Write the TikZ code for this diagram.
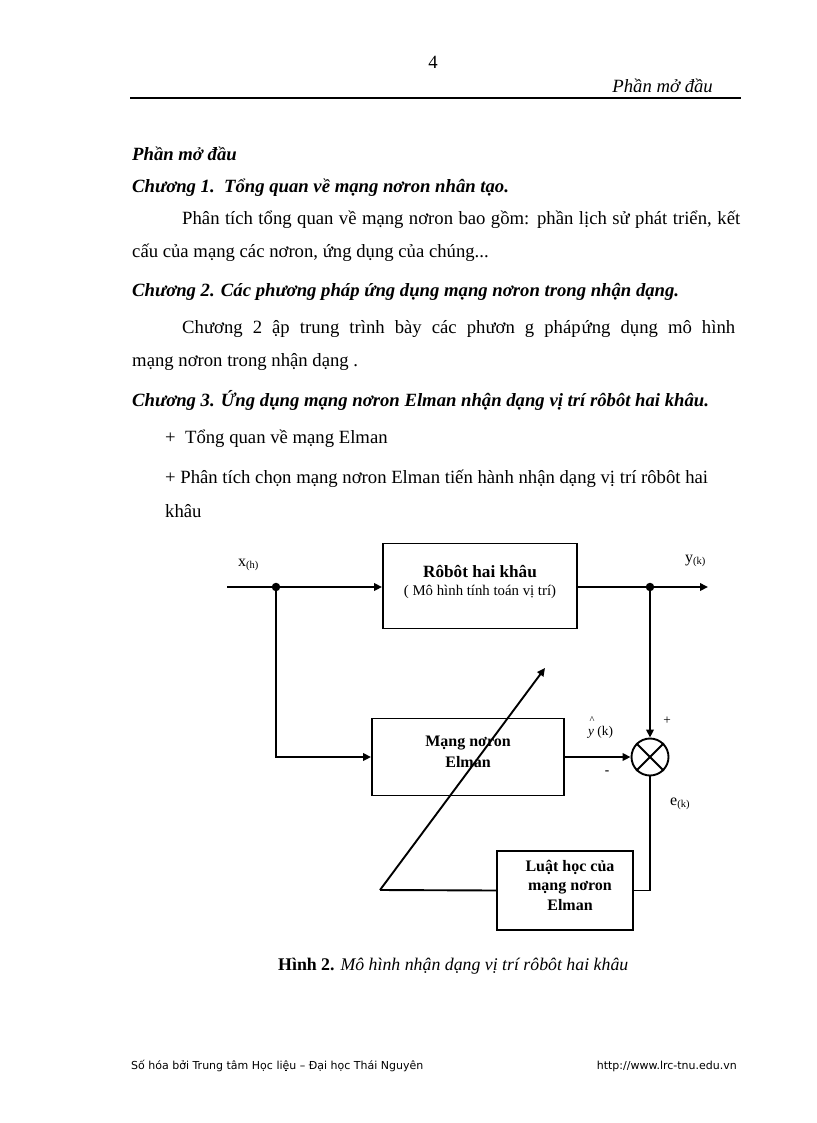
\documentclass[tikz,border=0pt]{standalone}
\usepackage{fontspec}
\setmainfont{Liberation Serif}
\newfontfamily\footfont{DejaVu Sans}
\usetikzlibrary{arrows.meta}
\newcommand\bodyfs{\fontsize{18.7}{22}\selectfont}
\newcommand\diagfs{\fontsize{16}{19}\selectfont}
\newcommand\smallfs{\fontsize{13.3}{16}\selectfont}
\newcommand\subfs{\fontsize{10.5}{12}\selectfont}
\tikzset{
  txt/.style={inner sep=0pt, anchor=base west, font=\bodyfs},
  ttl/.style={txt, font=\bodyfs\bfseries\itshape},
  blk/.style={draw, line width=1.9pt, rectangle, align=center, inner sep=0pt, font=\diagfs\bfseries},
  wire/.style={line width=1.9pt},
  arr/.style={wire, -{Triangle[length=8pt,width=7.5pt]}},
  dot/.style={circle, fill=black, inner sep=0pt, minimum size=8.5pt},
  lbl/.style={inner sep=0pt, font=\diagfs},
}
\begin{document}
\begin{tikzpicture}[x=1pt,y=-1pt]
\useasboundingbox (0,0) rectangle (816,1123);
\fill[white] (0,0) rectangle (816,1123);
% header
\node[txt, anchor=base] (pnum) at (433,69) {4};
\node[txt, anchor=base east, font=\bodyfs\itshape] (hdr) at (713,93) {Phần mở đầu};
\coordinate (rl) at (130,98);
\coordinate (rr) at (741,98);
\draw[line width=1.6pt] (rl) -- (rr);
% body
\node[ttl] (t0) at (132,161) {Phần mở đầu};
\node[ttl] (t1) at (132,193) {Chương 1.\ \ Tổng quan về mạng nơron nhân tạo.};
\node[txt] (p1a) at (182,225) {\makebox[558pt][s]{Phân tích tổng quan về mạng nơron bao gồm: phần lịch sử phát triển, kết}};
\node[txt] (p1b) at (132,257) {cấu của mạng các nơron, ứng dụng của chúng...};
\node[ttl] (t2) at (132,296) {Chương 2. Các phương pháp ứng dụng mạng nơron trong nhận dạng.};
\node[txt] (p2a) at (182,333) {\makebox[553pt][s]{Chương 2 ập trung trình bày các phươn g pháp\hspace{1pt}ứng dụng mô hình}};
\node[txt] (p2b) at (132,366) {mạng nơron trong nhận dạng .};
\node[ttl] (t3) at (132,406) {Chương 3. Ứng dụng mạng nơron Elman nhận dạng vị trí rôbôt hai khâu.};
\node[txt] (b1) at (165,443) {+\ \ Tổng quan về mạng Elman};
\node[txt] (b2) at (165,483) {+ Phân tích chọn mạng nơron Elman tiến hành nhận dạng vị trí rôbôt hai};
\node[txt] (b3) at (165,517) {khâu};
% diagram
\node[blk, minimum width=194pt, minimum height=85pt] (robot) at (480,586) {};
\node[inner sep=0pt, anchor=base, font=\fontsize{17.2}{20}\selectfont\bfseries] (rt1) at (480,577) {Rôbôt hai khâu};
\node[inner sep=0pt, anchor=base, font=\fontsize{14.8}{17}\selectfont] (rt2) at (480,595) {( Mô hình tính toán vị trí)};
\node[blk, minimum width=192pt, minimum height=77pt] (mang) at (468,757) {};
\node[inner sep=0pt, anchor=base, font=\diagfs\bfseries] (mt1) at (468,746) {Mạng nơron};
\node[inner sep=0pt, anchor=base, font=\diagfs\bfseries] (mt2) at (468,767) {Elman};
\node[blk, minimum width=136pt, minimum height=79pt] (luat) at (565,890.5) {};
\node[inner sep=0pt, anchor=base, font=\diagfs\bfseries] (lt1) at (570,871) {Luật học của};
\node[inner sep=0pt, anchor=base, font=\diagfs\bfseries] (lt2) at (570,890) {mạng nơron};
\node[inner sep=0pt, anchor=base, font=\diagfs\bfseries] (lt3) at (570,910) {Elman};
\node[draw, circle, line width=1.9pt, minimum size=37pt, inner sep=0pt] (sum) at (650,757) {};
\draw[wire] (sum.north east) -- (sum.south west);
\draw[wire] (sum.north west) -- (sum.south east);
\coordinate (xin) at (227,587);
\node[dot] (d1) at (276,587) {};
\node[dot] (d2) at (650,587) {};
\coordinate (yout) at (708,587);
\draw[wire] (xin) -- (d1);
\draw[arr] (d1) -- (robot.west |- d1);
\draw[wire] (robot.east |- d2) -- (d2);
\draw[arr] (d2) -- (yout);
\draw[arr] (d1) |- (mang.west);
\draw[arr] (mang.east) -- (sum.west);
\draw[arr] (d2) -- (sum.north);
\draw[wire] (sum.south) |- (luat.east);
\coordinate (dstart) at (380,890);
\coordinate (dend) at (545,668);
\draw[wire] (luat.west) -- (dstart);
\draw[arr] (dstart) -- (dend);
% labels
\node[lbl, anchor=base west] (xl) at (238,566) {x\raisebox{-2.5pt}{\subfs(h)}};
\node[lbl, anchor=base west] (yl) at (685,562) {y\raisebox{-2.5pt}{\subfs(k)}};
\node[lbl, anchor=base west, font=\smallfs] (yhat) at (588,735) {\makebox[0pt][l]{\hspace{1.5pt}\raisebox{12pt}{\subfs\^{}}}\textit{y} (k)};
\node[lbl, anchor=base, font=\smallfs] (plus) at (667,724) {+};
\node[lbl, anchor=base, font=\smallfs\bfseries] (minus) at (607,774) {-};
\node[lbl, anchor=base west] (el) at (670,805) {e\raisebox{-2.5pt}{\subfs(k)}};
% caption
\node[inner sep=0pt, anchor=base west, font=\fontsize{17.8}{20}\selectfont] (cap) at (278,970) {\textbf{Hình 2.} \textit{Mô hình nhận dạng vị trí rôbôt hai khâu}};
% footer
\node[inner sep=0pt, anchor=base west, font=\footfont\fontsize{11}{13}\selectfont] (f1) at (131,1069) {Số hóa bởi Trung tâm Học liệu – Đại học Thái Nguyên};
\node[inner sep=0pt, anchor=base east, font=\footfont\fontsize{11}{13}\selectfont] (f2) at (737,1069) {http://www.lrc-tnu.edu.vn};
\end{tikzpicture}
\end{document}
